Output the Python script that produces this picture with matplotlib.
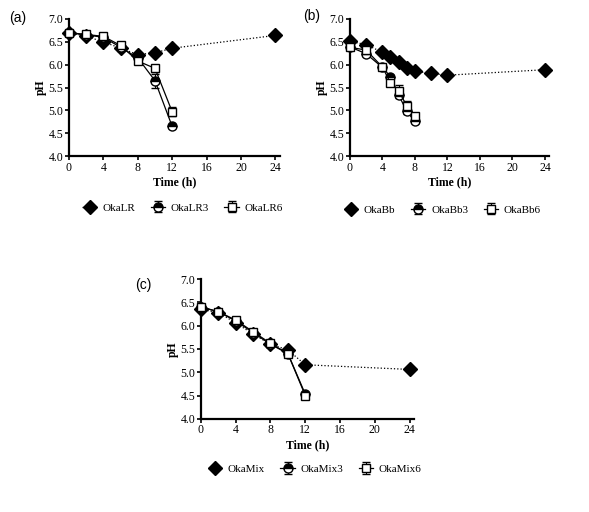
import matplotlib.pyplot as plt

plt.rcParams['font.family'] = ['Liberation Serif', 'DejaVu Serif']

# panel (a)
t_lr = [0, 2, 4, 6, 8, 10, 12, 24]
ph_lr = [6.70, 6.62, 6.50, 6.36, 6.22, 6.26, 6.36, 6.64]
t_lr36 = [0, 2, 4, 6, 8, 10, 12]
ph_lr3 = [6.70, 6.65, 6.60, 6.38, 6.15, 5.65, 4.65]
err_lr3 = [0.02, 0.08, 0.03, 0.08, 0.08, 0.15, 0.03]
ph_lr6 = [6.70, 6.66, 6.62, 6.42, 6.08, 5.92, 4.97]
err_lr6 = [0.02, 0.05, 0.03, 0.06, 0.07, 0.08, 0.10]

# panel (b)
t_bb = [0, 2, 4, 5, 6, 7, 8, 10, 12, 24]
ph_bb = [6.51, 6.44, 6.27, 6.16, 6.05, 5.93, 5.86, 5.81, 5.77, 5.89]
t_bb36 = [0, 2, 4, 5, 6, 7, 8]
ph_bb3 = [6.39, 6.24, 5.94, 5.74, 5.34, 4.98, 4.76]
err_bb3 = [0.03, 0.05, 0.05, 0.04, 0.06, 0.05, 0.04]
ph_bb6 = [6.38, 6.32, 5.95, 5.60, 5.43, 5.10, 4.88]
err_bb6 = [0.03, 0.06, 0.06, 0.06, 0.12, 0.10, 0.05]

# panel (c)
t_mix = [0, 2, 4, 6, 8, 10, 12, 24]
ph_mix = [6.35, 6.28, 6.06, 5.82, 5.60, 5.48, 5.16, 5.06]
t_mix36 = [0, 2, 4, 6, 8, 10, 12]
ph_mix3 = [6.40, 6.30, 6.10, 5.85, 5.60, 5.40, 4.53]
err_mix3 = [0.05, 0.04, 0.04, 0.05, 0.06, 0.04, 0.03]
ph_mix6 = [6.40, 6.30, 6.12, 5.87, 5.62, 5.40, 4.50]
err_mix6 = [0.05, 0.04, 0.04, 0.05, 0.07, 0.04, 0.03]

fig = plt.figure(figsize=(5.89, 5.12), dpi=100)

def panel(rect, label, label_xy, t1, y1, t2, y3, e3, y6, e6, names, leg_anchor):
    ax = fig.add_axes(rect)
    ax.plot(t1, y1, linestyle=':', color='black', lw=0.9, marker='D',
            ms=7, mfc='black', mec='black', label=names[0], zorder=3)
    ax.errorbar(t2, y3, yerr=e3, color='black', lw=0.9, marker='o', ms=6.5,
                mfc='black', mfcalt='white', fillstyle='top', mec='black',
                capsize=3, elinewidth=0.8, label=names[1], zorder=4)
    ax.errorbar(t2, y6, yerr=e6, color='black', lw=0.9, marker='s', ms=6,
                mfc='white', mec='black', capsize=3, elinewidth=0.8,
                label=names[2], zorder=5)
    ax.set_xlim(0, 24.5)
    ax.set_ylim(4.0, 7.0)
    ax.set_xticks([0, 4, 8, 12, 16, 20, 24])
    ax.set_yticks([4.0, 4.5, 5.0, 5.5, 6.0, 6.5, 7.0])
    ax.set_yticklabels(['4.0', '4.5', '5.0', '5.5', '6.0', '6.5', '7.0'])
    ax.spines['top'].set_visible(False)
    ax.spines['right'].set_visible(False)
    ax.spines['left'].set_linewidth(1.6)
    ax.spines['bottom'].set_linewidth(1.6)
    ax.tick_params(labelsize=8.5, width=1.2, length=3, pad=1)
    ax.set_xlabel('Time (h)', fontsize=8.5, fontweight='bold', labelpad=2)
    ax.set_ylabel('pH', fontsize=8.5, fontweight='bold', labelpad=1)
    for ln in ax.lines:
        ln.set_clip_on(False)
    fig.text(label_xy[0], label_xy[1], label, fontsize=10,
             family=['Liberation Sans', 'DejaVu Sans'], va='center')
    handles, labels = ax.get_legend_handles_labels()
    ax.legend(handles, labels, loc='center', bbox_to_anchor=leg_anchor,
              bbox_transform=fig.transFigure, ncol=3, frameon=False,
              fontsize=8, handlelength=1.3, columnspacing=1.4,
              handletextpad=0.5)
    return ax

panel([0.117, 0.695, 0.358, 0.268], '(a)', (0.016, 0.965),
      t_lr, ph_lr, t_lr36, ph_lr3, err_lr3, ph_lr6, err_lr6,
      ['OkaLR', 'OkaLR3', 'OkaLR6'], (0.31, 0.594))
panel([0.594, 0.695, 0.338, 0.268], '(b)', (0.514, 0.968),
      t_bb, ph_bb, t_bb36, ph_bb3, err_bb3, ph_bb6, err_bb6,
      ['OkaBb', 'OkaBb3', 'OkaBb6'], (0.751, 0.590))
panel([0.341, 0.182, 0.362, 0.273], '(c)', (0.230, 0.443),
      t_mix, ph_mix, t_mix36, ph_mix3, err_mix3, ph_mix6, err_mix6,
      ['OkaMix', 'OkaMix3', 'OkaMix6'], (0.534, 0.084))

fig.savefig('out.png', dpi=100, facecolor='white')
